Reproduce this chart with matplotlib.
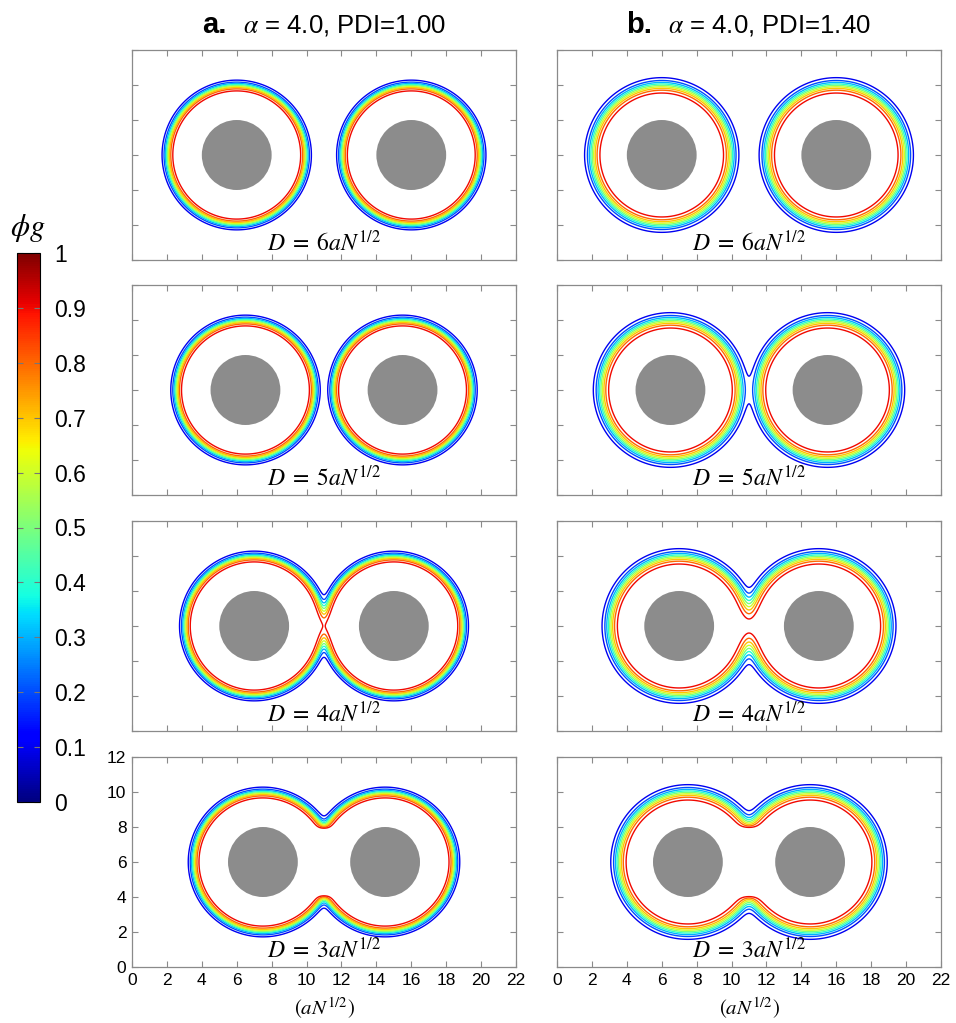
"""Contour maps of grafted-chain volume fraction around two brush-coated particles."""

import numpy as np
import matplotlib
matplotlib.use('Agg')
import matplotlib.pyplot as plt
from matplotlib.patches import Circle
from matplotlib.cm import ScalarMappable
from matplotlib.colors import Normalize

plt.rcParams['font.family'] = ['Liberation Sans', 'DejaVu Sans']
plt.rcParams['mathtext.fontset'] = 'stix'

# surface-to-surface separation for each row, in units of aN^1/2
separations = [6, 5, 4, 3]
row_labels = [r'$D\;=\;6aN^{1/2}$', r'$D\;=\;5aN^{1/2}$',
              r'$D\;=\;4aN^{1/2}$', r'$D\;=\;3aN^{1/2}$']

# one column per polydispersity
panel_letters = ['a.', 'b.']
panel_titles = [r'$\alpha$ = 4.0, PDI=1.00', r'$\alpha$ = 4.0, PDI=1.40']
brush_edge = [3.97, 3.98]    # radius where one brush is at phi = 0.5
brush_width = [0.28, 0.40]   # sharpness of the brush edge

core_radius = 2.0
box_center = (11.0, 6.0)

contour_levels = [0.1, 0.2, 0.3, 0.4, 0.5, 0.6, 0.7, 0.8, 0.9]
cbar_ticks = [0, 0.1, 0.2, 0.3, 0.4, 0.5, 0.6, 0.7, 0.8, 0.9, 1]
cbar_ticklabels = ['0', '0.1', '0.2', '0.3', '0.4', '0.5',
                   '0.6', '0.7', '0.8', '0.9', '1']
x_ticks = [0, 2, 4, 6, 8, 10, 12, 14, 16, 18, 20, 22]
y_ticks = [0, 2, 4, 6, 8, 10, 12]

W, H = 956, 1023
SPINE = '#8a8a8a'
CORE = '#8c8c8c'


def px_rect(x0, y0, x1, y1):
    """Figure-fraction rectangle from pixel corners (origin top left)."""
    return [x0 / W, 1 - y1 / H, (x1 - x0) / W, (y1 - y0) / H]


def brush_profile(r, edge, width):
    return 0.5 * (1 - np.tanh((r - edge) / width))


def volume_fraction(X, Y, centers, edge, width):
    phi = np.zeros_like(X)
    for cx, cy in centers:
        phi += brush_profile(np.hypot(X - cx, Y - cy), edge, width)
    return phi


def particle_centers(sep):
    half = sep / 2 + core_radius
    cx, cy = box_center
    return [(cx - half, cy), (cx + half, cy)]


def do_panel(ax, sep, label, edge, width, show_x, show_y):
    xs = np.linspace(0, 22, 881)
    ys = np.linspace(0, 12, 481)
    X, Y = np.meshgrid(xs, ys)
    centers = particle_centers(sep)
    phi = volume_fraction(X, Y, centers, edge, width)

    ax.contour(X, Y, phi, levels=contour_levels, cmap='jet',
               vmin=0, vmax=1, linewidths=1.0)
    for c in centers:
        ax.add_patch(Circle(c, core_radius, facecolor=CORE,
                            edgecolor='none', zorder=3))

    ax.text(11, 0.5, label, ha='center', va='baseline', fontsize=17)

    ax.set_xlim(0, 22)
    ax.set_ylim(0, 12)
    ax.set_xticks(x_ticks)
    ax.set_yticks(y_ticks)
    ax.tick_params(direction='in', length=4, width=0.8, color=SPINE,
                   top=True, right=True, labelsize=12.5,
                   labelbottom=show_x, labelleft=show_y, pad=4)
    for s in ax.spines.values():
        s.set_color(SPINE)
        s.set_linewidth(0.9)


fig = plt.figure(figsize=(W / 100, H / 100), dpi=100)

col_x = [(132, 516), (557, 941)]
row_y = [(50, 260), (285, 495), (521, 731), (757, 967)]
letter_x = [202, 626]
title_x = [243, 668]

for j in range(2):
    x0, x1 = col_x[j]
    for i, sep in enumerate(separations):
        y0, y1 = row_y[i]
        ax = fig.add_axes(px_rect(x0, y0, x1, y1))
        do_panel(ax, sep, row_labels[i], brush_edge[j], brush_width[j],
                 show_x=(i == 3), show_y=(i == 3 and j == 0))
    fig.text(letter_x[j] / W, 1 - 33 / H, panel_letters[j],
             fontsize=21, fontweight='bold', ha='left', va='baseline')
    fig.text(title_x[j] / W, 1 - 33 / H, panel_titles[j],
             fontsize=18.5, ha='left', va='baseline')
    fig.text((x0 + x1) / 2 / W, 1 - 1008 / H, r'$(aN^{1/2})$',
             fontsize=15, ha='center', va='center')

# colour bar on the left
cax = fig.add_axes(px_rect(17, 253, 40, 802))
sm = ScalarMappable(norm=Normalize(0, 1), cmap='jet')
cb = fig.colorbar(sm, cax=cax)
cb.set_ticks(cbar_ticks)
cb.set_ticklabels(cbar_ticklabels)
cax.tick_params(direction='in', length=4, width=0.8, color='#777777',
                left=True, right=True, labelsize=16.5, pad=10)
cb.outline.set_linewidth(0.8)
fig.text(28 / W, 1 - 228 / H, r'$\phi g$', fontsize=22,
         ha='center', va='center')

fig.savefig('out.png', dpi=100)
